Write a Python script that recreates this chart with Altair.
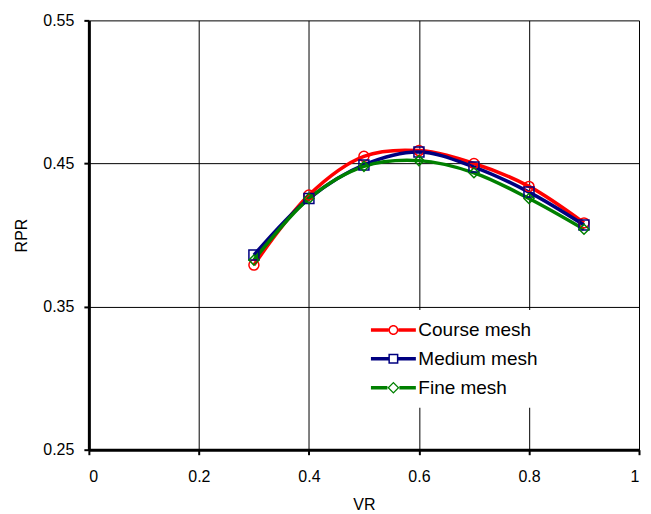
import altair as alt
import pandas as pd

# ---- data ----
vr = [0.3, 0.4, 0.5, 0.6, 0.7, 0.8, 0.9]
course = [0.379, 0.428, 0.455, 0.459, 0.450, 0.434, 0.4085]
medium = [0.386, 0.4255, 0.449, 0.458, 0.4475, 0.430, 0.407]
fine = [0.3825, 0.4255, 0.448, 0.452, 0.4435, 0.4255, 0.404]
series_names = ["Course mesh", "Medium mesh", "Fine mesh"]
series_colors = ["#FF0000", "#000080", "#008000"]
marker_shapes = ["circle", "square", "diamond"]
x_ticks = [0, 0.2, 0.4, 0.6, 0.8, 1]
y_ticks = [0.25, 0.35, 0.45, 0.55]

rows = []
for name, vals in zip(series_names, [course, medium, fine]):
    for x, y in zip(vr, vals):
        rows.append({"VR": x, "RPR": y, "series": name})
df = pd.DataFrame(rows)

# legend glyphs: line segment + hollow marker (filled path with a hole)
def seg(a):
    return (f"M-2.25,-0.175L{-a},-0.175L{-a},0.175L-2.25,0.175Z"
            f"M{a},-0.175L2.25,-0.175L2.25,0.175L{a},0.175Z")

circle_glyph = (seg(0.5) +
                "M-0.5,0A0.5,0.5 0 1,1 0.5,0A0.5,0.5 0 1,1 -0.5,0Z"
                "M-0.35,0A0.35,0.35 0 1,0 0.35,0A0.35,0.35 0 1,0 -0.35,0Z")
square_glyph = (seg(0.5) +
                "M-0.5,-0.5L0.5,-0.5L0.5,0.5L-0.5,0.5Z"
                "M-0.35,-0.35L-0.35,0.35L0.35,0.35L0.35,-0.35Z")
diamond_glyph = (seg(0.6) +
                 "M-0.6,0L0,-0.6L0.6,0L0,0.6Z"
                 "M-0.42,0L0,0.42L0.42,0L0,-0.42Z")
legend_glyphs = [circle_glyph, square_glyph, diamond_glyph]

FONT = "Liberation Sans"

x_enc = alt.X("VR:Q", scale=alt.Scale(domain=[0, 1], nice=False),
              axis=alt.Axis(values=x_ticks, format="~g", title="VR",
                            labelPadding=14, titlePadding=12))
y_enc = alt.Y("RPR:Q", scale=alt.Scale(domain=[0.25, 0.55], nice=False, zero=False),
              axis=alt.Axis(values=y_ticks, format=".2f", title="RPR",
                            labelPadding=10, titlePadding=13))

color_scale = alt.Scale(domain=series_names, range=series_colors)

lines = alt.Chart(df).mark_line(interpolate="catmull-rom", strokeWidth=3.5).encode(
    x=x_enc, y=y_enc,
    color=alt.Color("series:N", scale=color_scale, legend=None),
    detail="series:N",
)

points = alt.Chart(df).mark_point(filled=False, size=100, strokeWidth=1.5, opacity=1).encode(
    x=x_enc, y=y_enc,
    color=alt.Color("series:N", scale=color_scale, legend=None),
    shape=alt.Shape("series:N", scale=alt.Scale(domain=series_names, range=marker_shapes), legend=None),
)

leg = alt.Legend(
    title=None, orient="none", legendX=285, legendY=290,
    fillColor="white", padding=10, symbolSize=400, symbolStrokeWidth=0,
    symbolOpacity=1, labelFontSize=19, labelFont=FONT, labelColor="black",
    labelOffset=15, rowPadding=9,
)

legend_layer = alt.Chart(df).mark_point(filled=True, opacity=0, size=400).encode(
    x=x_enc, y=y_enc,
    color=alt.Color("series:N", scale=color_scale, legend=leg),
    shape=alt.Shape("series:N", scale=alt.Scale(domain=series_names, range=legend_glyphs), legend=leg),
)

chart = alt.layer(lines, points, legend_layer).resolve_scale(
    color="independent", shape="independent"
).properties(
    width=551, height=430,
    autosize=alt.AutoSizeParams(type="none"),
    padding={"left": 81, "top": 12, "right": 4, "bottom": 62},
).configure_view(strokeWidth=0).configure_axis(
    domainColor="black", domainWidth=3, tickColor="black", tickWidth=2, tickSize=5,
    gridColor="black", gridWidth=1, gridOpacity=1,
    labelFont=FONT, labelFontSize=16, labelColor="black",
    titleFont=FONT, titleFontSize=16, titleFontWeight="normal", titleColor="black",
).configure_legend(labelFont=FONT)

chart.save("out.html", embed_options={"renderer": "svg", "actions": False})
